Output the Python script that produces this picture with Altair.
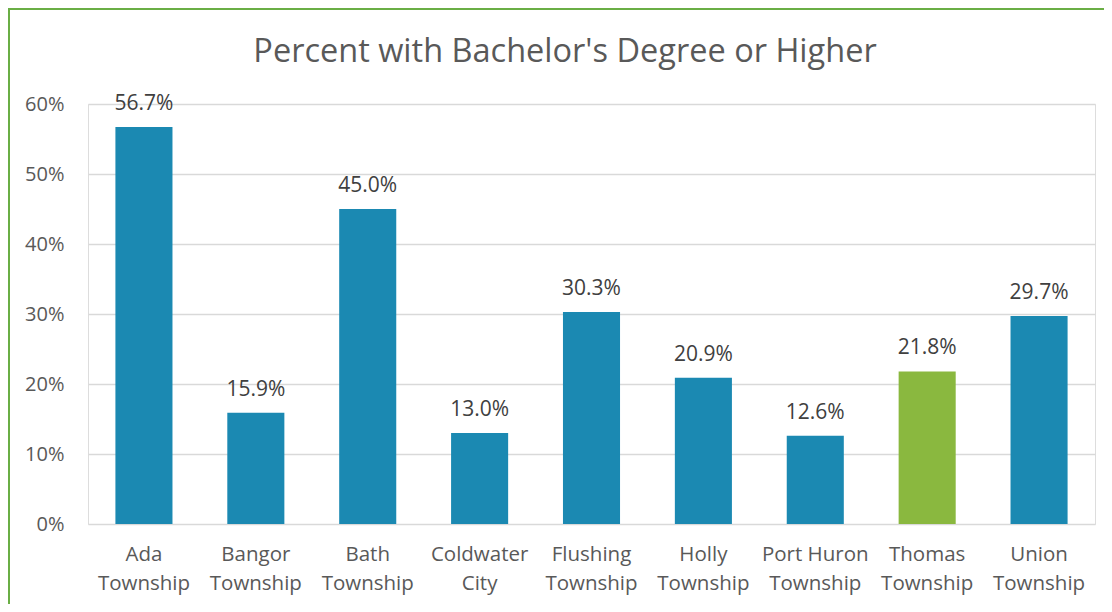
import altair as alt
import pandas as pd

places = ["Ada Township", "Bangor Township", "Bath Township", "Coldwater City",
          "Flushing Township", "Holly Township", "Port Huron Township",
          "Thomas Township", "Union Township"]
pct = [56.7, 15.9, 45.0, 13.0, 30.3, 20.9, 12.6, 21.8, 29.7]
highlight = "Thomas Township"
title_text = "Percent with Bachelor's Degree or Higher"

df = pd.DataFrame({"place": places, "pct": [p / 100 for p in pct]})
df["group"] = ["hl" if p == highlight else "base" for p in places]

FONT = "Open Sans"

x = alt.X("place:N", sort=places, title=None,
          scale=alt.Scale(paddingInner=0.49, paddingOuter=0.245),
          axis=alt.Axis(labelAngle=0, labelFontSize=20.5, labelColor="#595959",
                        labelFont=FONT, ticks=False, domain=False, labelPadding=20,
                        labelLineHeight=29, labelBaseline="top",
                        labelExpr="datum.label == 'Port Huron Township' ? ['Port Huron', 'Township'] : split(datum.label, ' ')"))
y = alt.Y("pct:Q", title=None,
          scale=alt.Scale(domain=[0, 0.6], nice=False),
          axis=alt.Axis(format=".0%", values=[0, 0.1, 0.2, 0.3, 0.4, 0.5, 0.6],
                        labelFontSize=20, labelColor="#595959", labelFont=FONT,
                        ticks=False, domain=False, labelPadding=24,
                        gridColor="#D9D9D9", gridWidth=1.5))

bars = alt.Chart(df).mark_bar().encode(
    x=x, y=y,
    color=alt.Color("group:N", scale=alt.Scale(domain=["base", "hl"], range=["#1B89B2", "#8AB83F"]), legend=None),
)
labels = alt.Chart(df).mark_text(baseline="alphabetic", dy=-17, fontSize=21, font=FONT, color="#404040").encode(
    x=alt.X("place:N", sort=places), y="pct:Q",
    text=alt.Text("pct:Q", format=".1%"),
)

single = alt.Data(values=[{"t": title_text}])
title = alt.Chart(single).mark_text(fontSize=32.5, font=FONT, color="#595959", baseline="alphabetic").encode(
    x=alt.value(477), y=alt.value(-42), text="t:N")
frame = alt.Chart(single).mark_rect(fill=None, stroke="#6AAE45", strokeWidth=2).encode(
    x=alt.value(-79), x2=alt.value(1060), y=alt.value(-95), y2=alt.value(580))

chart = alt.layer(bars, labels, title, frame).properties(
    width=1007, height=420,
    padding={"left": 80, "top": 96, "right": 9, "bottom": 80},
    autosize=alt.AutoSizeParams(type="none"),
).configure_view(stroke=None).configure(background="white")

chart.save("out.html", embed_options={"renderer": "svg", "actions": False})
